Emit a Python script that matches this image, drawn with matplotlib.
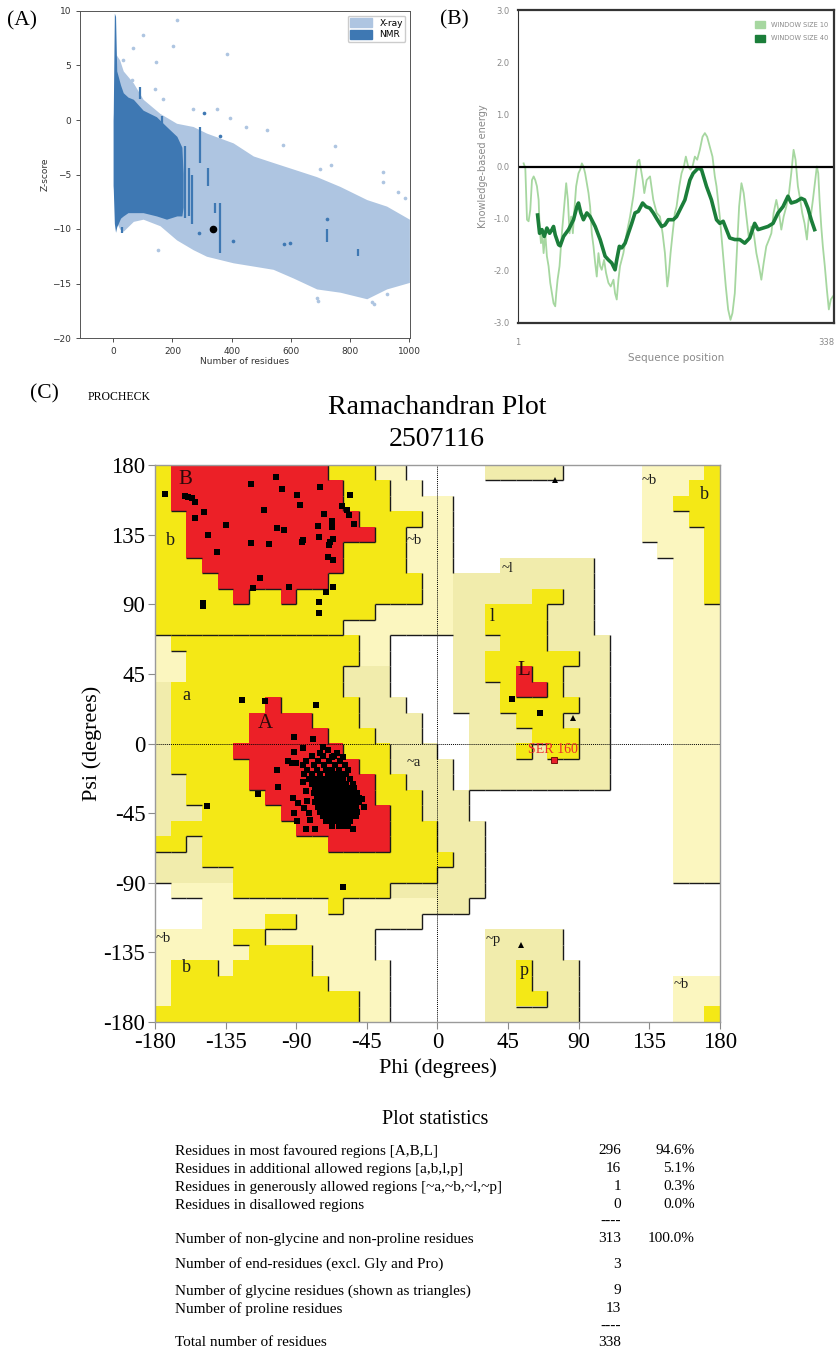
import matplotlib
matplotlib.use("Agg")
import matplotlib.pyplot as plt
import numpy as np
from matplotlib.collections import LineCollection
from matplotlib.colors import ListedColormap
from matplotlib.patches import Patch

W, H = 837, 1348
SERIF = "Liberation Serif"

# ---------------- (A) z-score vs chain length ----------------
xray_n = [0, 10, 22, 34, 68, 101, 158, 214, 270, 315, 405, 473, 540, 608, 687, 766, 856, 923, 1000]
xray_hi = [0, 6.0, 5.5, 4.5, 3.4, 1.9, 0.6, -0.3, -0.6, -1.2, -2.1, -3.3, -3.9, -4.5, -5.2, -6.1, -7.3, -7.9, -9.1]
xray_lo = [-6, -9.3, -10, -10.2, -9.3, -9.1, -9.7, -11, -11.9, -12.5, -13.1, -13.4, -13.7, -14.5, -15.5, -15.8, -16.4, -15.5, -14.9]
xray_out_n = [214, 203, 99, 68, 144, 385, 34, 62, 141, 169, 268, 349, 394, 448, 518, 574, 749, 910, 910,
              150, 642, 698, 737, 687, 873, 923, 690, 880, 960, 985]
xray_out_z = [9.2, 6.8, 7.8, 6.6, 5.3, 6.1, 5.5, 3.7, 2.8, 1.9, 1.0, 1.0, 0.2, -0.6, -0.9, -2.3, -2.4, -4.8, -5.7,
              -11.9, -5.2, -4.5, -4.1, -16.3, -16.7, -16.0, -16.6, -16.9, -6.6, -7.2]

nmr_n = [0, 4, 8, 12, 17, 25, 34, 50, 68, 101, 146, 180, 215, 232, 236]
nmr_hi = [0, 9.8, 9.5, 4.5, 4.0, 3.2, 2.5, 2.1, 1.9, 0.9, 0.3, -0.6, -1.5, -2.5, -4.9]
nmr_lo = [-6, -9.5, -10.3, -9.8, -9.5, -9.0, -8.8, -8.5, -8.5, -8.5, -8.8, -9.1, -8.8, -8.8, -8.0]
streak_n = [242, 255, 265, 293, 321, 360, 90, 165, 186, 721, 828, 31, 345]
streak_hi = [-2.4, -4.4, -5.0, -0.6, -4.4, -7.6, 3.0, 0.4, -1.5, -10.0, -11.8, -9.8, -7.6]
streak_lo = [-9.0, -8.8, -9.5, -3.9, -6.1, -12.2, 1.9, -1.0, -4.3, -11.2, -12.5, -10.4, -8.5]
nmr_dot_n = [403, 575, 721, 290, 360, 306, 598]
nmr_dot_z = [-11.1, -11.4, -9.1, -10.4, -1.5, 0.6, -11.3]
query_n, query_z = [336], [-10.0]

# ---------------- (B) energy profile ----------------
win10_pos = [7.0, 8.8, 10.6, 12.3, 14.1, 15.9, 17.7, 19.4, 21.2, 23.0, 24.0, 25.5, 26.9, 28.3, 30.1, 31.8,
             33.6, 35.4, 37.2, 38.9, 40.7, 41.8, 43.2, 45.3, 47.8, 50.3, 52.4, 54.2, 56.0, 57.7, 59.5, 60.9,
             63.0, 65.5, 67.3, 69.1, 70.8, 72.6, 74.4, 76.2, 77.9, 79.7, 81.5, 83.3, 85.0, 86.8, 88.6, 90.3,
             92.8, 94.9, 97.4, 99.9, 102.8, 104.5, 106.3, 108.1, 109.8, 113.4, 116.9, 120.5, 124.0, 126.9,
             128.6, 130.4, 132.2, 134.0, 135.7, 138.2, 141.8, 145.3, 148.9, 152.4, 155.2, 157.7, 160.2,
             161.6, 163.7, 165.9, 168.3, 170.1, 173.0, 175.4, 177.9, 180.0, 182.5, 185.0, 187.1, 189.6,
             192.1, 194.9, 197.8, 200.3, 202.7, 205.6, 208.4, 210.9, 212.7, 216.2, 219.8, 222.6, 225.1,
             227.6, 229.7, 232.2, 234.0, 236.8, 239.3, 241.7, 244.6, 247.4, 249.9, 252.4, 255.2, 258.0,
             260.5, 263.0, 265.8, 268.7, 271.2, 273.6, 276.5, 279.3, 281.8, 284.3, 287.1, 290.0, 292.4,
             294.9, 297.0, 299.5, 302.0, 304.1, 306.6, 309.1, 311.2, 313.7, 315.5, 317.6, 319.7, 321.2,
             322.6, 324.4, 326.1, 328.2, 330.4, 332.5, 334.6, 336.8]
win10_e = [0.06, -0.03, -1.02, -1.05, -0.83, -0.26, -0.19, -0.26, -0.38, -0.64, -1.15, -1.47, -1.28, -1.66,
           -1.28, -1.72, -1.91, -2.23, -2.43, -2.62, -2.68, -2.43, -2.17, -1.91, -1.28, -0.77, -0.32, -0.64,
           -1.28, -0.96, -1.28, -0.89, -0.38, -0.13, -0.06, 0.06, 0.0, -0.13, -0.32, -0.51, -0.77, -1.28,
           -1.53, -1.85, -2.11, -1.66, -1.91, -1.98, -1.79, -2.04, -2.23, -2.30, -2.17, -2.43, -2.55, -2.17,
           -1.91, -1.66, -1.28, -0.96, -0.57, -0.13, 0.10, 0.13, -0.06, -0.26, -0.51, -0.26, -0.19, -0.64,
           -0.89, -0.96, -1.28, -1.66, -2.30, -2.11, -1.66, -1.28, -0.89, -0.77, -0.38, -0.13, 0.0, 0.19,
           0.0, -0.06, 0.0, 0.19, 0.13, 0.32, 0.57, 0.64, 0.57, 0.38, 0.19, -0.19, -0.38, -0.96, -1.72,
           -2.30, -2.74, -2.94, -2.81, -2.43, -1.79, -0.77, -0.32, -0.51, -0.96, -1.40, -1.15, -1.28, -1.66,
           -1.91, -2.17, -1.85, -1.53, -1.40, -1.28, -0.89, -0.64, -0.89, -1.21, -0.96, -0.77, -0.51, -0.13,
           0.32, 0.13, -0.38, -0.64, -0.89, -1.09, -1.40, -0.96, -0.89, -0.64, -0.32, 0.0, -0.13, -0.64,
           -1.15, -1.53, -1.91, -2.36, -2.74, -2.55, -2.49]
win40_pos = [21.9, 24.0, 26.5, 29.0, 31.8, 34.7, 37.2, 38.9, 40.7, 44.3, 46.0, 49.6, 54.9, 60.2, 63.8, 65.5,
             68.0, 70.8, 74.4, 77.9, 83.3, 88.6, 93.9, 97.4, 101.0, 104.5, 106.3, 109.1, 111.6, 115.2, 118.7,
             122.3, 125.8, 129.3, 133.9, 137.5, 141.7, 145.3, 149.6, 154.2, 157.7, 161.3, 166.6, 170.1,
             173.7, 179.0, 184.3, 187.8, 193.2, 196.7, 202.0, 207.3, 212.7, 216.2, 219.8, 223.3, 226.8,
             232.2, 237.5, 242.8, 248.1, 253.4, 257.0, 262.3, 267.6, 273.0, 278.3, 283.6, 288.9, 292.4,
             297.8, 303.1, 306.6, 310.2, 313.7, 317.3]
win40_e = [-0.93, -1.28, -1.21, -1.34, -1.18, -1.28, -1.21, -1.15, -1.31, -1.50, -1.52, -1.34, -1.21, -1.02,
           -0.77, -0.70, -0.89, -1.02, -0.89, -0.96, -1.15, -1.40, -1.72, -1.79, -1.85, -1.98, -1.79, -1.53,
           -1.56, -1.47, -1.28, -1.09, -0.89, -0.86, -0.70, -0.77, -0.80, -0.89, -1.02, -1.15, -1.12, -1.02,
           -1.02, -0.96, -0.83, -0.64, -0.26, -0.13, -0.03, -0.06, -0.38, -0.64, -1.02, -1.09, -1.05, -1.21,
           -1.37, -1.40, -1.40, -1.47, -1.37, -1.09, -1.21, -1.18, -1.15, -1.09, -0.89, -0.77, -0.57, -0.70,
           -0.67, -0.61, -0.64, -0.80, -1.02, -1.21]

# ---------------- (C) Ramachandran regions, 10 degree cells ----------------
# rows from psi=180 down, columns from phi=-180 right
# B/A/L core, b/a/l/p allowed, 1/3/4 generous (~a,~l,~p), 2 generous (~b), . disallowed
rama_left = [
    "bBBBBBBBBBBbbb22..", "bBBBBBBBBBBBbbb22.", "bBBBBBBBBBBBbbb222", "bbBBBBBBBBBBBbbbb2",
    "bbBBBBBBBBBBBBbb22", "bbBBBBBBBBBBbbbb22", "bbbBBBBBBBBBbbbb22", "bbbbBBBBBBBbbbbbb2",
    "bbbbbBbbBbbbbbbbb2", "bbbbbbbbbbbbbb2222", "bbbbbbbbbbbb222222", "2aaaaaaaaaaaa22...",
    "22aaaaaaaaaaa22...", "22aaaaaaaaaa111...", "1aaaaaaaaaaa111...", "1aaaaaaAaaaaa111..",
    "1aaaaaAAAAaaa1111.", "1aaaaaAAAAAaaa111.", "1aaaaAAAAAAAaaa111", "1aaaaaAAAAAAAaa111",
    "11aaaaAAAAAAAAaa11", "11aaaaaAAAAAAAaaa1", "111aaaaaAAAAAAAaa1", "1aaaaaaaaAAAAAAaaa",
    "aa1aaaaaaaaAAAAaaa", "111aaaaaaaaaaaaaaa", "11111aaaaaaaaaaaaa", ".2222aaaaaaaaaa111",
    "...22222222a222222", "...2222bb22222222.", "22222bb2222222....", "222222bbbb2222....",
    "2bbb2bbbbb22222...", "2bbbbbbbbbb2222...", "2bbbbbbbbbbbb22...", "bbbbbbbbbbbbb22...",
]
rama_right = [
    "...44444.....2222b", ".............222bb", "2............22bbb", "2............222bb",
    "2............2222b", "2.............222b", "2...333333.....22b", "2333333333.....22b",
    "233333ll33.....22b", "233llll333.....222", "233llll333.....222", ".333lll3333....222",
    ".33llllll33....222", ".33llLll333....222", ".333lLLl333....222", ".333lllll33....222",
    "..333lll333....222", "..3333lll33....222", "..333l3ll33....222", "1.333333333....222",
    "1.333333333....222", "11.............222", "11.............222", "111............222",
    "111............222", "a11............222", "111............222", "111...............",
    "11................", "..................", "...44444..........", "...44444..........",
    "...44p444.........", "...44p444......222", "...44pp44......222", "...444444......22b",
]

helix_core = [
    (-80, -8), (-73, -8), (-66, -8), (-84, -11), (-76, -11), (-69, -11), (-62, -11),
    (-86, -14), (-79, -14), (-72, -14), (-65, -14), (-59, -14),
    (-83, -17), (-77, -17), (-71, -17), (-67, -17), (-63, -17), (-57, -17),
    (-85, -20), (-80, -20), (-75, -20), (-70, -20), (-66, -20), (-62, -20), (-58, -20),
    (-82, -23), (-78, -23), (-74, -23), (-71, -23), (-68, -23), (-64, -23), (-60, -23), (-56, -23),
    (-80, -26), (-76, -26), (-73, -26), (-70, -26), (-67, -26), (-64, -26), (-61, -26), (-58, -26), (-54, -26),
    (-78, -29), (-75, -29), (-72, -29), (-69, -29), (-66, -29), (-63, -29), (-60, -29), (-57, -29), (-53, -29),
    (-79, -32), (-76, -32), (-73, -32), (-70, -32), (-67, -32), (-64, -32), (-61, -32), (-58, -32), (-55, -32), (-51, -32),
    (-77, -35), (-74, -35), (-71, -35), (-68, -35), (-65, -35), (-62, -35), (-59, -35), (-56, -35), (-53, -35), (-50, -35),
    (-78, -38), (-75, -38), (-72, -38), (-69, -38), (-66, -38), (-63, -38), (-60, -38), (-57, -38), (-54, -38), (-50, -38),
    (-76, -41), (-73, -41), (-70, -41), (-67, -41), (-64, -41), (-61, -41), (-58, -41), (-55, -41), (-52, -41),
    (-75, -44), (-72, -44), (-69, -44), (-66, -44), (-63, -44), (-60, -44), (-57, -44), (-54, -44), (-51, -44),
    (-73, -47), (-70, -47), (-67, -47), (-64, -47), (-61, -47), (-58, -47), (-55, -47), (-52, -47),
    (-71, -50), (-68, -50), (-65, -50), (-62, -50), (-59, -50), (-56, -50),
    (-67, -53), (-63, -53), (-60, -53), (-57, -53),
    (-86, -25), (-84, -31), (-83, -37), (-85, -42), (-82, -45), (-70, -4), (-64, -6), (-60, -9),
    (-48, -36), (-47, -41), (-67, -9),
]
other_residues = [
    (-173.6, 161.1), (-160.9, 160.2), (-158.8, 159.5), (-156.6, 158.5), (-154.5, 156.3), (-148.8, 149.8),
    (-154.5, 145.9), (-134.9, 141.2), (-146.2, 135.0), (-140.3, 124.0), (-119.0, 167.9), (-102.7, 172.2),
    (-98.9, 164.3), (-110.5, 150.9), (-89.3, 160.8), (-87.6, 154.3), (-75.1, 165.6), (-55.7, 160.4),
    (-61.0, 153.5), (-57.8, 150.9), (-56.2, 147.7), (-72.3, 148.3), (-67.4, 143.8), (-67.4, 140.1),
    (-52.9, 141.9), (-75.9, 140.6), (-102.4, 139.1), (-97.6, 138.0), (-75.5, 133.5), (-66.7, 132.2),
    (-68.5, 130.4), (-69.1, 128.1), (-85.5, 131.5), (-86.5, 130.4), (-118.6, 129.4), (-107.3, 129.1),
    (-69.6, 120.7), (-66.4, 118.6), (-113.1, 107.2), (-117.4, 100.3), (-94.8, 101.3), (-66.4, 101.3),
    (-71.2, 98.1), (-149.6, 91.0), (-149.6, 89.0), (-75.7, 91.5), (-75.7, 84.5),
    (-124.4, 28.1), (-109.9, 27.7), (-77.4, 24.9), (-79.5, 2.9), (-85.5, -3.1), (-91.2, 4.4),
    (-91.4, -5.7), (-95.0, -11.1), (-92.9, -12.8), (-90.3, -12.8), (-102.4, -17.2), (-101.4, -27.9),
    (-114.2, -32.7), (-146.9, -40.2), (-92.3, -35.0), (-88.7, -38.7), (-91.4, -45.1), (-89.7, -50.1),
    (-72.7, -2.1), (-74.8, -6.4), (-83.8, -55.5), (-78.0, -55.5), (-54.0, -55.5), (-81.2, -49.5),
    (-60.2, -92.8), (47.3, 28.5), (65.4, 19.5),
]
glycines = [(75.1, 170.3), (86.6, 16.7), (53.3, -130.3)]
flagged = (74.5, -10.7)
flagged_name = "SER 160"

region_text = ["B", "b", "~b", "a", "A", "~a", "~l", "l", "L", "~b", "b", "~b", "b", "~p", "p", "~b"]
region_phi = [-160.6, -170, -14.9, -159.8, -109.9, -15.3, 44.6, 34.6, 55.2, 134.8, 169.9, -174.7, -159.8, 35.2, 55.4, 155]
region_psi = [170.9, 131.5, 131.5, 31.3, 13, -12.4, 113.2, 82, 47.5, 170.3, 161.1, -126, -145, -126.4, -146.4, -155.5]

stat_labels = [
    "Residues in most favoured regions [A,B,L]",
    "Residues in additional allowed regions [a,b,l,p]",
    "Residues in generously allowed regions [~a,~b,~l,~p]",
    "Residues in disallowed regions",
    "Number of non-glycine and non-proline residues",
    "Number of end-residues (excl. Gly and Pro)",
    "Number of glycine residues (shown as triangles)",
    "Number of proline residues",
    "Total number of residues",
]
stat_counts = ["296", "16", "1", "0", "313", "3", "9", "13", "338"]
stat_pcts = ["94.6%", "5.1%", "0.3%", "0.0%", "100.0%", "", "", "", ""]

# ---------------- figure ----------------
fig = plt.figure(figsize=(W / 100, H / 100), dpi=100)


def box(left, top, right, bottom):
    return [left / W, 1 - bottom / H, (right - left) / W, (bottom - top) / H]


def ftext(x, y, s, **kw):
    kw.setdefault("family", SERIF)
    fig.text(x / W, 1 - y / H, s, **kw)


XRAY, NMR = "#AEC5E1", "#3E78B3"

# (A)
axA = fig.add_axes(box(80, 11, 410, 338))
axA.fill_between(xray_n, xray_lo, xray_hi, color=XRAY, lw=0)
axA.scatter(xray_out_n, xray_out_z, s=7, color=XRAY, lw=0)
axA.fill_between(nmr_n, nmr_lo, nmr_hi, color=NMR, lw=0)
axA.vlines(streak_n, streak_lo, streak_hi, color=NMR, lw=1.6)
axA.scatter(nmr_dot_n, nmr_dot_z, s=7, color=NMR, lw=0)
axA.scatter(query_n, query_z, s=20, color="black", zorder=5)
axA.set_xlim(-112, 1002)
axA.set_ylim(-20, 10)
axA.set_xticks([0, 200, 400, 600, 800, 1000])
axA.set_yticks([10, 5, 0, -5, -10, -15, -20])
axA.tick_params(labelsize=6.5, length=3, width=0.6, colors="#333333")
axA.set_xlabel("Number of residues", fontsize=6.5, labelpad=1, color="#333333")
axA.set_ylabel("Z-score", fontsize=6.5, labelpad=2, color="#333333")
for sp in axA.spines.values():
    sp.set_linewidth(0.7)
    sp.set_color("#555555")
axA.legend([Patch(color=XRAY), Patch(color=NMR)], ["X-ray", "NMR"], loc="upper right",
           fontsize=6.5, handlelength=2.4, handleheight=1.1, borderpad=0.3, labelspacing=0.25,
           framealpha=1, edgecolor="#cccccc")

# (B)
axB = fig.add_axes(box(518, 10, 834, 323))
axB.plot(win10_pos, win10_e, color="#A6D7A0", lw=1.3)
axB.plot(win40_pos, win40_e, color="#1B7E3A", lw=2.6)
axB.axhline(0, color="black", lw=1.6)
axB.set_xlim(1, 338)
axB.set_ylim(-3, 3)
axB.set_yticks([3, 2, 1, 0, -1, -2, -3])
axB.set_yticklabels(["3.0", "2.0", "1.0", "0.0", "-1.0", "-2.0", "-3.0"])
axB.set_xticks([1, 338])
axB.set_xticklabels(["1", "338"])
axB.get_xticklabels()[1].set_horizontalalignment("right")
axB.tick_params(length=0, labelsize=6, colors="#8a8a8a", pad=6)
axB.tick_params(axis="x", pad=11)
axB.set_ylabel("Knowledge-based energy", fontsize=7, color="#8a8a8a", labelpad=4)
axB.set_xlabel("Sequence position", fontsize=7.5, color="#8a8a8a", labelpad=4)
for name, sp in axB.spines.items():
    sp.set_color("#333333")
    sp.set_linewidth(0.8 if name == "left" else 1.6)
axB.legend([Patch(color="#A6D7A0"), Patch(color="#1B7E3A")], ["WINDOW SIZE 10", "WINDOW SIZE 40"],
           loc="upper right", bbox_to_anchor=(1.0, 0.985), fontsize=4.8, frameon=False,
           handlelength=1.6, handleheight=1.3, labelspacing=1.0, labelcolor="#8a8a8a")

# (C)
axC = fig.add_axes(box(155, 465, 720, 1022))
code = {".": 0, "1": 1, "3": 1, "4": 1, "2": 2, "a": 3, "b": 3, "l": 3, "p": 3, "A": 4, "B": 4, "L": 4}
level = {0: 0, 1: 1, 2: 1, 3: 2, 4: 3}
rows = [l + r for l, r in zip(rama_left, rama_right)]
idx = np.array([[code[ch] for ch in row] for row in rows])
cmap = ListedColormap(["white", "#F1ECAC", "#FBF6BF", "#F4E816", "#EC2027"])
axC.imshow(idx, cmap=cmap, vmin=-0.5, vmax=4.5, extent=(-180, 180, -180, 180),
           origin="upper", interpolation="nearest", aspect="auto", zorder=0)

segs = []
for r in range(36):
    for c in range(36):
        cur = rows[r][c]
        lv = level[code[cur]]
        x0, y1 = -180 + 10 * c, 180 - 10 * r
        if r < 35:
            nb = rows[r + 1][c]
            nlv = level[code[nb]]
            if lv > nlv or (lv == 2 and nlv == 2 and cur != nb):
                segs.append([(x0, y1 - 10), (x0 + 10, y1 - 10)])
        if c < 35:
            nb = rows[r][c + 1]
            if lv > level[code[nb]]:
                segs.append([(x0 + 10, y1 - 10), (x0 + 10, y1)])
axC.add_collection(LineCollection(segs, colors="#1a1a1a", linewidths=1.0, zorder=1))

axC.axhline(0, color="black", lw=0.7, ls=(0, (1, 1)), zorder=2)
axC.axvline(0, color="black", lw=0.7, ls=(0, (1, 1)), zorder=2)

for t, x, y in zip(region_text, region_phi, region_psi):
    if t.isupper():
        size, col = 15, "#2a0a0a"
    elif t.startswith("~"):
        size, col = 10.5, "#1a1a1a"
    else:
        size, col = 13, "#1a1a1a"
    axC.text(x, y, t, fontsize=size, color=col, family=SERIF, ha="center", va="center", zorder=3)

hp, hs = zip(*helix_core)
axC.plot(hp, hs, ls="none", marker="s", ms=3.8, mew=0, color="black", zorder=4)
op, os_ = zip(*other_residues)
axC.plot(op, os_, ls="none", marker="s", ms=3.8, mew=0, color="black", zorder=4)
gp, gs = zip(*glycines)
axC.plot(gp, gs, ls="none", marker="^", ms=4.2, mew=0, color="black", zorder=4)
axC.plot([flagged[0]], [flagged[1]], ls="none", marker="s", ms=4, mfc="#E8202A", mec="#6a0000",
         mew=0.6, zorder=4)
axC.text(flagged[0] - 1, flagged[1] + 6.8, flagged_name, fontsize=10, color="#EE2A2A", family=SERIF,
         ha="center", va="center", zorder=5)

axC.set_xlim(-180, 180)
axC.set_ylim(-180, 180)
ticks = list(range(-180, 181, 45))
axC.set_xticks(ticks)
axC.set_yticks(ticks)
axC.set_xticklabels([str(v) for v in ticks], family=SERIF)
axC.set_yticklabels([str(v) for v in ticks], family=SERIF)
axC.tick_params(direction="out", length=5, width=0.8, color="#8a8a8a", labelsize=16.5, pad=2)
axC.set_xlabel("Phi (degrees)", fontsize=16, family=SERIF, labelpad=4)
axC.set_ylabel("Psi (degrees)", fontsize=16, family=SERIF, labelpad=1)
for sp in axC.spines.values():
    sp.set_color("#9a9a9a")
    sp.set_linewidth(1.0)

# panel letters and titles
ftext(7, 21, "(A)", fontsize=15.5, va="center")
ftext(440, 20, "(B)", fontsize=15.5, va="center")
ftext(30, 394, "(C)", fontsize=15.5, va="center")
ftext(88, 397, "PROCHECK", fontsize=8.5, va="center")
ftext(437, 408, "Ramachandran Plot", fontsize=20, ha="center", va="center")
ftext(437, 440, "2507116", fontsize=20, ha="center", va="center")

# plot statistics block
ftext(435, 1119, "Plot statistics", fontsize=14.5, ha="center", va="center")
line_y = [1151, 1169, 1187, 1205, 1239, 1264, 1291, 1309, 1342]
for y, lab, n, pct in zip(line_y, stat_labels, stat_counts, stat_pcts):
    ftext(175, y, lab, fontsize=11, va="center")
    ftext(621, y, n, fontsize=11, ha="right", va="center")
    if pct:
        ftext(695, y, pct, fontsize=11, ha="right", va="center")
for y in [1221, 1326]:
    ftext(621, y, "----", fontsize=11, ha="right", va="center")

fig.savefig("out.png", dpi=100)
